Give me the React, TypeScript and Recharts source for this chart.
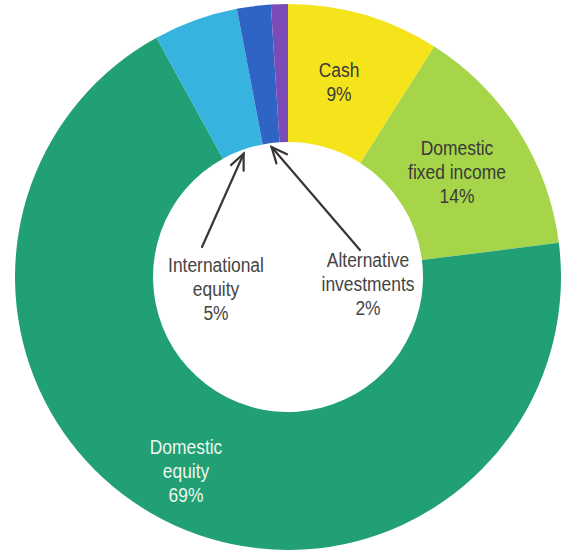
import React from "react";
import { PieChart, Pie, Cell } from "recharts";

const categories = ["Cash", "Domestic fixed income", "Domestic equity", "International equity", "Alternative investments", "Other"];
const labelLines = [["Cash"], ["Domestic", "fixed income"], ["Domestic", "equity"], ["International", "equity"], ["Alternative", "investments"], []];
const values = [9, 14, 69, 5, 2, 1];
const showPct = [true, true, true, true, true, false];

const colors = ["#f5e31c", "#a6d54a", "#20a074", "#37b3df", "#2f63c4", "#7b4bb8"];
const textColors = ["#3a3a3a", "#3a3a3a", "#eef6ee", "#444444", "#444444", "#444444"];
// label placement relative to chart centre: [dx, dy of first line]
const labelOffsets: [number, number][] = [[51, -207], [169, -129], [-102, 170], [-72, -12], [80, -17], [0, 0]];
// arrow start relative to centre (only for labels placed in the hole)
const arrowStarts: ([number, number] | null)[] = [null, null, null, [-86, -30], [72, -27], null];

const data = categories.map((name, i) => ({ name, value: values[i] }));

const RAD = Math.PI / 180;
const FONT = "'Liberation Sans', Arial, sans-serif";

const renderLabel = (props: any) => {
  const { cx, cy, midAngle, innerRadius, index, value } = props;
  const lines = [...labelLines[index]];
  if (showPct[index]) lines.push(`${value}%`);
  if (!lines.length) return null;
  const [dx, dy] = labelOffsets[index];
  const lh = 24;
  const start = arrowStarts[index];
  let arrow = null;
  if (start) {
    const tx = cx + (innerRadius - 4) * Math.cos(-midAngle * RAD);
    const ty = cy + (innerRadius - 4) * Math.sin(-midAngle * RAD);
    const sx = cx + start[0];
    const sy = cy + start[1];
    const ang = Math.atan2(sy - ty, sx - tx);
    const hl = 17;
    const spread = 0.42;
    const w1x = tx + hl * Math.cos(ang + spread);
    const w1y = ty + hl * Math.sin(ang + spread);
    const w2x = tx + hl * Math.cos(ang - spread);
    const w2y = ty + hl * Math.sin(ang - spread);
    arrow = (
      <g stroke="#3b3434" strokeWidth={2.2} fill="none" strokeLinecap="round">
        <line x1={sx} y1={sy} x2={tx} y2={ty} />
        <polyline points={`${w1x},${w1y} ${tx},${ty} ${w2x},${w2y}`} />
      </g>
    );
  }
  return (
    <g key={`lab-${index}`}>
      {arrow}
      {lines.map((t, k) => (
        <g key={k} transform={`translate(${cx + dx},${cy + dy + k * lh}) scale(0.83,1)`}>
          <text
            x={0}
            y={0}
            textAnchor="middle"
            dominantBaseline="central"
            fill={textColors[index]}
            fontFamily={FONT}
            fontSize={21}
          >
            {t}
          </text>
        </g>
      ))}
    </g>
  );
};

export default function App() {
  return (
    <div style={{ position: "absolute", left: 0, top: 0, width: 565, height: 557, background: "#fff" }}>
      <PieChart width={565} height={557} margin={{ top: 0, right: 0, bottom: 0, left: 0 }}>
        <Pie
          data={data}
          dataKey="value"
          nameKey="name"
          cx={288}
          cy={277}
          innerRadius={135}
          outerRadius={273}
          startAngle={90}
          endAngle={-270}
          stroke="none"
          label={renderLabel}
          labelLine={false}
          isAnimationActive={false}
        >
          {data.map((d, i) => (
            <Cell key={d.name} fill={colors[i]} stroke="none" />
          ))}
        </Pie>
      </PieChart>
    </div>
  );
}
